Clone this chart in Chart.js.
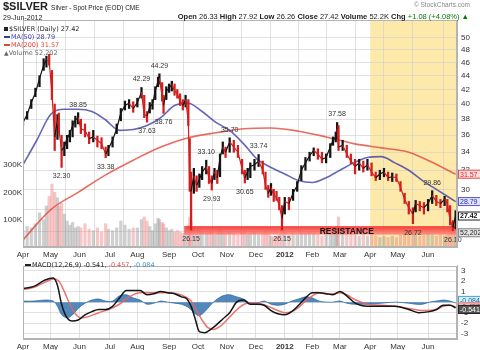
<!DOCTYPE html>
<html>
<head>
<meta charset="utf-8">
<script src="https://cdn.jsdelivr.net/npm/chart.js@4.4.1/dist/chart.umd.min.js"></script>
<style>
  html, body { margin: 0; padding: 0; background: #fff; }
  #wrap { position: relative; width: 480px; height: 350px; overflow: hidden;
          font-family: "Liberation Sans", Arial, Helvetica, sans-serif; color: #222; }
  canvas { position: absolute; left: 0; }
  #price { top: 0; }
  #macd { top: 257px; }
  .t { position: absolute; white-space: nowrap; line-height: 1; }
  .lg { font-family: "DejaVu Sans", sans-serif; font-size: 6.5px; }
  .sw { display: inline-block; width: 6px; height: 2px; vertical-align: middle; margin-right: 1px; }
  b { font-weight: bold; }
</style>
</head>
<body>
<div id="wrap">
  <canvas id="price" width="480" height="262"></canvas>
  <canvas id="macd" width="480" height="93"></canvas>

  <div class="t" style="left:3px;top:1px;font-size:11px;font-weight:bold;">$SILVER <span style="font-size:6.5px;font-weight:normal;">Silver - Spot Price (EOD) CME</span></div>
  <div class="t" style="right:10px;top:2px;font-size:6.5px;color:#888;">© StockCharts.com</div>
  <div class="t" style="left:3px;top:14px;font-size:7px;">29-Jun-2012</div>
  <div class="t" style="right:11px;top:13px;font-size:7.5px;">
    <b>Open</b> 26.33 <b>High</b> 27.92 <b>Low</b> 26.26 <b>Close</b> 27.42 <b>Volume</b> 52.2K <b>Chg</b> <span style="color:#0a7a0a">+1.08 (+4.08%)</span> <span style="color:#0a7a0a">▲</span>
  </div>

  <div class="t lg" style="left:4px;top:26px;color:#222;"><span class="sw" style="background:#222;height:4px;width:4px;"></span>$SILVER (Daily) 27.42</div>
  <div class="t lg" style="left:4px;top:34px;color:#3a3aa8;"><span class="sw" style="background:#3a3aa8;"></span>MA(50) 28.79</div>
  <div class="t lg" style="left:4px;top:42px;color:#e0443a;"><span class="sw" style="background:#e0443a;"></span>MA(200) 31.57</div>
  <div class="t lg" style="left:4px;top:50px;color:#666;"><span style="font-size:6px;">▲</span>Volume 52,202</div>

  <div class="t lg" style="left:25px;top:262px;color:#222;"><span class="sw" style="background:#222;"></span>MACD(12,26,9) -0.541, <span style="color:#e05050">-0.457</span>, <span style="color:#4a90c8">-0.084</span></div>
</div>

<script>
// ---- calendar: trading-day index of each month start, Apr 2011 .. Jun 2012 ----
const monthStart  = [0, 20, 41, 63, 83, 106, 127, 148, 169, 190, 210, 230, 252, 272, 294];
const monthLabels = ['Apr', 'May', 'Jun', 'Jul', 'Aug', 'Sep', 'Oct', 'Nov', 'Dec', '2012', 'Feb', 'Mar', 'Apr', 'May', 'Jun'];

// ---- daily price bars (trading-day index, close, high, low, volume in K) ----
const day = [
  0, 3, 6, 9, 12, 15, 17, 19,
  21, 23, 25, 26, 28, 30, 32, 34, 36, 38, 40,
  42, 45, 48, 51, 54, 57, 60, 62,
  65, 68, 71, 74, 77, 80,
  83, 86, 88, 90, 92, 94, 96, 98, 99, 101, 102, 104,
  106, 108, 110, 112, 114, 116, 118, 120, 121, 122, 124, 126,
  128, 130, 133, 135, 137, 139, 141, 143, 145, 147,
  150, 153, 156, 159, 161, 163, 165, 168,
  171, 174, 176, 178, 180, 182, 184, 186, 188,
  190, 193, 196, 199, 202, 205, 208,
  211, 214, 217, 220, 223, 225, 227, 228, 229,
  232, 235, 238, 241, 244, 247, 250,
  253, 256, 259, 262, 265, 268, 271,
  274, 277, 280, 283, 285, 288, 291,
  294, 297, 300, 303, 306, 308, 310, 312, 314
];
const close = [
  37.6, 38.6, 40.2, 41.5, 43.6, 45.6, 46.4, 46.2,
  41.5, 35.8, 37.8, 36.8, 34.2, 34.6, 35.6, 36.2, 37.2, 37.9, 38.2,
  36.8, 36.6, 35.6, 35.8, 35.4, 35.0, 33.8, 34.4,
  35.4, 36.8, 38.8, 39.8, 40.1, 39.4,
  40.2, 41.6, 38.6, 38.4, 39.6, 40.0, 41.8, 43.2, 43.6, 41.0, 39.8, 41.8,
  42.2, 42.8, 41.8, 41.4, 40.4, 39.8, 40.6, 37.8, 30.6, 29.8, 31.4, 30.4,
  31.0, 31.8, 32.4, 31.2, 30.6, 31.8, 31.2, 33.4, 34.6, 34.0,
  35.2, 34.6, 34.0, 32.2, 31.2, 31.8, 32.4, 32.6,
  33.0, 32.0, 30.4, 29.6, 30.2, 29.4, 29.2, 28.4, 27.2,
  28.8, 28.6, 29.6, 30.4, 32.0, 32.8, 33.6,
  34.2, 33.8, 33.2, 33.4, 34.6, 35.4, 35.8, 36.8, 34.6,
  34.8, 33.8, 33.0, 32.4, 32.8, 32.2, 32.6,
  31.8, 31.2, 31.6, 31.8, 31.2, 31.3, 31.2,
  30.2, 29.0, 28.2, 27.6, 28.6, 28.4, 28.2,
  28.6, 29.4, 28.8, 28.6, 29.0, 28.6, 27.0, 26.4, 27.42
];
const high = [
  38.0, 39.0, 40.6, 42.2, 44.0, 46.6, 47.0, 47.3,
  44.8, 40.0, 38.6, 38.8, 36.0, 35.2, 36.0, 36.6, 37.8, 38.4, 38.85,
  38.0, 37.4, 36.4, 36.6, 35.9, 35.7, 34.6, 34.8,
  35.8, 37.4, 39.4, 40.4, 40.6, 40.3,
  40.8, 42.29, 41.2, 39.0, 40.2, 40.6, 42.4, 43.8, 44.29, 43.0, 41.2, 42.4,
  42.8, 43.2, 42.8, 42.0, 41.4, 40.6, 41.2, 40.6, 35.6, 31.8, 32.2, 31.4,
  31.6, 32.4, 33.10, 32.4, 31.4, 32.2, 32.0, 33.8, 35.2, 34.6,
  35.70, 35.4, 34.8, 33.2, 32.0, 32.2, 32.8, 33.2,
  33.74, 33.0, 31.8, 30.4, 30.6, 30.0, 29.8, 29.2, 28.4,
  29.2, 29.2, 30.0, 30.8, 32.5, 33.4, 34.0,
  34.5, 34.4, 34.0, 33.8, 35.0, 35.8, 36.4, 37.58, 37.2,
  35.4, 34.8, 33.8, 33.2, 33.2, 33.0, 33.2,
  32.8, 31.8, 32.0, 32.2, 31.8, 31.7, 31.6,
  30.8, 29.6, 28.8, 28.2, 28.9, 28.8, 28.7,
  29.0, 29.86, 29.4, 29.0, 29.3, 29.0, 28.4, 27.0, 27.92
];
const low = [
  37.2, 38.0, 39.4, 41.0, 42.4, 44.8, 45.3, 45.6,
  40.6, 34.2, 35.5, 36.2, 32.30, 33.6, 34.4, 35.2, 35.8, 37.0, 37.4,
  36.2, 35.8, 35.0, 35.2, 34.6, 34.4, 33.38, 33.6,
  34.6, 36.2, 37.8, 39.2, 39.4, 38.9,
  39.6, 40.8, 38.2, 37.63, 38.8, 39.3, 40.6, 42.4, 42.8, 40.4, 38.76, 40.6,
  41.6, 41.8, 41.2, 40.8, 39.8, 39.2, 39.6, 37.2, 29.8, 26.15, 29.6, 29.8,
  30.2, 31.0, 31.6, 30.6, 29.93, 31.0, 30.6, 31.3, 33.8, 33.4,
  34.0, 34.0, 33.4, 31.6, 30.65, 31.0, 31.2, 32.0,
  32.4, 31.6, 30.0, 29.2, 29.4, 28.8, 28.9, 28.0, 26.15,
  27.6, 28.0, 28.9, 29.8, 30.9, 32.0, 33.0,
  33.6, 33.2, 32.8, 32.8, 33.4, 34.8, 35.2, 35.6, 34.2,
  34.2, 33.4, 32.7, 31.6, 32.0, 31.8, 32.0,
  31.4, 30.9, 31.0, 31.3, 30.9, 30.8, 30.8,
  29.8, 28.6, 27.6, 26.72, 27.8, 27.9, 27.6,
  27.9, 28.6, 28.4, 28.2, 28.4, 27.8, 26.6, 26.10, 26.26
];
const volumeK = [
  60, 75, 70, 85, 125, 100, 150, 185,
  230, 200, 180, 150, 160, 120, 95, 80, 90, 70, 75,
  70, 85, 65, 60, 70, 55, 85, 65,
  60, 70, 95, 80, 65, 70,
  70, 100, 110, 95, 75, 60, 85, 105, 100, 90, 85, 70,
  60, 65, 55, 60, 55, 50, 60, 80, 110, 95, 70, 60,
  65, 55, 50, 55, 60, 45, 50, 65, 55, 50,
  55, 50, 45, 55, 60, 45, 50, 55,
  45, 50, 60, 50, 40, 35, 40, 45, 60,
  55, 45, 50, 45, 60, 50, 55,
  50, 45, 40, 45, 50, 55, 60, 70, 110,
  60, 50, 55, 45, 40, 45, 40,
  45, 40, 35, 40, 35, 40, 35,
  45, 50, 55, 60, 50, 40, 45,
  50, 45, 40, 45, 40, 45, 60, 55, 52.2
];

// ---- moving averages ----
const ma50Day = [0, 10, 20, 30, 40, 50, 60, 70, 80, 90, 100, 110, 120, 130, 140, 150, 160, 170, 180, 190, 200, 210, 220, 230, 240, 250, 260, 270, 280, 290, 300, 314];
const ma50    = [32.6, 35.4, 38.6, 39.3, 39.3, 39.0, 37.9, 36.6, 36.7, 37.2, 38.2, 39.8, 40.1, 39.0, 37.6, 36.6, 35.0, 33.2, 32.3, 31.6, 30.9, 30.7, 31.2, 32.0, 32.8, 33.4, 33.5, 32.8, 32.0, 30.9, 30.0, 28.79];
const ma200Day = [0, 20, 40, 60, 80, 100, 120, 140, 160, 180, 200, 220, 240, 260, 280, 295, 314];
const ma200    = [25.3, 28.0, 29.7, 31.5, 33.1, 34.6, 35.7, 36.3, 36.8, 36.9, 36.5, 35.8, 35.0, 34.5, 34.0, 33.0, 31.57];

// ---- MACD(12,26,9) ----
const macdDay = [0, 8, 16, 22, 25, 28, 32, 36, 40, 45, 50, 55, 60, 65, 70, 75, 80, 85, 90, 95, 100, 105, 110, 115, 119, 122, 125, 128, 132, 136, 140, 145, 150, 155, 160, 165, 170, 175, 180, 185, 190, 195, 200, 205, 210, 215, 220, 225, 230, 235, 240, 245, 250, 260, 270, 280, 287, 295, 300, 305, 310, 314];
const macdLine = [1.3, 1.5, 2.1, 2.3, 1.6, -0.2, -1.5, -1.8, -1.7, -1.2, -0.9, -0.7, -0.7, -0.4, 0.4, 1.1, 1.1, 1.1, 0.7, 0.8, 1.0, 0.9, 0.8, 0.5, 0.3, -0.4, -1.6, -2.8, -2.9, -2.6, -2.2, -1.6, -1.0, 0.0, 0.2, -0.2, -0.2, -0.3, -0.8, -1.1, -1.2, -0.9, -0.3, 0.4, 0.9, 0.9, 0.8, 0.7, 1.0, 0.6, 0.0, -0.3, -0.4, -0.4, -0.4, -0.7, -1.0, -0.9, -0.7, -0.3, -0.3, -0.541];
const sigDay = [0, 8, 16, 22, 26, 30, 34, 38, 42, 47, 55, 62, 70, 77, 85, 95, 105, 112, 118, 122, 126, 130, 134, 138, 143, 148, 153, 158, 163, 170, 178, 185, 190, 195, 200, 205, 210, 215, 220, 225, 230, 235, 240, 250, 260, 270, 280, 290, 300, 305, 310, 314];
const sigLine = [1.2, 1.4, 1.9, 2.2, 2.0, 1.0, -0.2, -1.1, -1.5, -1.4, -1.0, -0.7, -0.2, 0.5, 0.9, 0.9, 0.9, 0.8, 0.5, 0.1, -0.8, -1.7, -2.4, -2.6, -2.3, -1.7, -1.0, -0.4, -0.1, -0.1, -0.4, -0.8, -1.0, -0.9, -0.5, 0.1, 0.6, 0.9, 0.8, 0.8, 0.9, 0.7, 0.3, -0.2, -0.3, -0.4, -0.6, -0.8, -0.7, -0.4, -0.3, -0.457];
const histDay = [0, 8, 16, 22, 25, 28, 32, 36, 40, 45, 50, 55, 60, 65, 70, 75, 80, 85, 90, 95, 100, 105, 110, 115, 120, 125, 128, 132, 136, 140, 145, 150, 155, 160, 165, 170, 175, 180, 185, 190, 195, 200, 205, 210, 215, 220, 225, 230, 235, 240, 245, 250, 260, 270, 280, 285, 290, 295, 300, 305, 310, 314];
const histVal = [0.1, 0.1, 0.2, 0.1, -0.4, -1.2, -1.5, -1.2, -0.6, -0.1, 0.2, 0.3, 0.1, 0.1, 0.6, 0.7, 0.4, 0.2, -0.2, -0.1, 0.1, 0.0, -0.1, -0.2, -0.5, -1.1, -1.3, -0.9, -0.3, 0.2, 0.6, 0.7, 0.5, 0.3, -0.1, -0.1, 0.1, -0.2, -0.3, -0.2, 0.1, 0.3, 0.5, 0.4, 0.1, 0.0, 0.0, 0.1, -0.1, -0.2, -0.2, -0.2, -0.1, 0.0, -0.1, -0.2, -0.2, 0.0, 0.1, 0.2, 0.1, -0.084];

// ---- axis ticks ----
const priceTicks = [26, 28, 30, 32, 34, 36, 38, 40, 42, 44, 46, 48, 50];
const volTicksK = [100, 200, 300];
const macdTicks = [-3, -2, -1, 0, 1, 2, 3];

// ---- annotated swing points: [trading day, 'high' | 'low'] ----
const swingNotes = [
  [40, 'high'], [28, 'low'], [60, 'low'], [86, 'high'], [90, 'low'], [99, 'high'], [102, 'low'],
  [122, 'low'], [133, 'high'], [137, 'low'], [150, 'high'], [161, 'low'], [171, 'high'],
  [188, 'low'], [228, 'high'], [283, 'low'], [297, 'high'], [312, 'low']
];

// ---------------------------------------------------------------------------
const FAMILY = '"Liberation Sans", Arial, Helvetica, sans-serif';
Chart.defaults.font.family = FAMILY;
Chart.defaults.font.size = 8;
Chart.defaults.color = '#333';
Chart.defaults.animation = false;
Chart.defaults.plugins.legend.display = false;
Chart.defaults.plugins.tooltip.enabled = false;

const GRID = 'rgba(205,205,205,0.6)';
const EDGE = '#b4b4b4';
const UP = '#141414', DOWN = '#d41e1e';
const last = a => a[a.length - 1];

function monthAxis(h) {
  return {
    type: 'linear', min: 0, max: 315, offset: false,
    afterBuildTicks: s => { s.ticks = monthStart.map(v => ({ value: v })); },
    afterFit: s => { s.height = h; },
    ticks: {
      autoSkip: false, maxRotation: 0, padding: 3, color: '#333',
      font: c => ({ family: FAMILY, size: 8, weight: monthLabels[c.index] === '2012' ? 'bold' : 'normal' }),
      callback: (v, i) => monthLabels[i]
    },
    grid: { color: GRID, drawTicks: false },
    border: { color: EDGE }
  };
}

function valueBox(ctx, x, y, text, fg, bg, stroke, bold) {
  ctx.font = (bold ? 'bold ' : '') + '7px ' + FAMILY;
  const w = 23, h = 9;
  ctx.fillStyle = bg;
  ctx.fillRect(x, y - h / 2, w, h);
  ctx.strokeStyle = stroke;
  ctx.lineWidth = 1;
  ctx.strokeRect(x + 0.5, y - h / 2 + 0.5, w - 1, h - 1);
  ctx.fillStyle = fg;
  ctx.textAlign = 'left';
  ctx.textBaseline = 'middle';
  ctx.fillText(text, x + 2, y + 0.5);
}

const panelDecor = {
  id: 'panelDecor',
  beforeDraw(chart, args, o) {
    if (o.shadeFrom == null) return;
    const { ctx, chartArea: a, scales: { x } } = chart;
    const x0 = x.getPixelForValue(o.shadeFrom);
    ctx.save();
    ctx.fillStyle = 'rgb(253,234,170)';
    ctx.fillRect(x0, a.top, a.right - x0, a.bottom - a.top);
    ctx.restore();
  },
  afterDatasetDraw(chart, args, o) {
    if (!o.band || chart.data.datasets[args.index].label !== 'Volume') return;
    const { ctx, chartArea: a, scales: { x, y } } = chart;
    const x0 = x.getPixelForValue(o.band.from);
    const yTop = y.getPixelForValue(o.band.high), yBot = y.getPixelForValue(o.band.low);
    ctx.save();
    const g = ctx.createLinearGradient(0, yTop, 0, yBot);
    g.addColorStop(0, 'rgba(246,44,40,0.92)');
    g.addColorStop(1, 'rgba(255,125,115,0.8)');
    ctx.fillStyle = g;
    ctx.fillRect(x0, yTop, a.right - x0, yBot - yTop);
    ctx.font = 'bold 8.5px ' + FAMILY;
    ctx.fillStyle = '#111';
    ctx.textAlign = 'center';
    ctx.textBaseline = 'middle';
    ctx.fillText(o.band.text, x.getPixelForValue(o.band.textAt), (yTop + yBot) / 2 + 1);
    ctx.restore();
  },
  afterDatasetsDraw(chart, args, o) {
    if (!o.notes) return;
    const { ctx, scales: { x, y } } = chart;
    ctx.save();
    ctx.font = '7px ' + FAMILY;
    ctx.fillStyle = '#333';
    ctx.textAlign = 'center';
    ctx.textBaseline = 'middle';
    o.notes.forEach(([d, side]) => {
      const i = day.indexOf(d);
      const v = side === 'high' ? high[i] : low[i];
      const px = x.getPixelForValue(d), py = y.getPixelForValue(v);
      ctx.fillText(v.toFixed(2), px, side === 'high' ? py - 8 : py + 9);
    });
    ctx.restore();
  },
  afterDraw(chart, args, o) {
    const { ctx, chartArea: a } = chart;
    ctx.save();
    ctx.strokeStyle = EDGE;
    ctx.lineWidth = 1;
    ctx.strokeRect(Math.round(a.left) + 0.5, Math.round(a.top) + 0.5, Math.round(a.right - a.left) - 1, Math.round(a.bottom - a.top) - 1);
    (o.boxes || []).forEach(b => {
      const sc = chart.scales[b.axis];
      valueBox(ctx, a.right + 1, sc.getPixelForValue(b.value), b.text, b.fg, b.bg, b.stroke, b.bold);
    });
    ctx.restore();
  }
};

// ---- price panel ----
const isDown = i => i > 0 && close[i] < close[i - 1];
new Chart(document.getElementById('price'), {
  type: 'bar',
  data: {
    datasets: [
      {
        type: 'bar', label: 'Volume', yAxisID: 'yVol', order: 5, grouped: false,
        data: day.map((d, i) => ({ x: d, y: volumeK[i] })),
        backgroundColor: day.map((d, i) => isDown(i) ? 'rgba(236,130,130,0.45)' : 'rgba(150,150,150,0.45)'),
        barThickness: 2.6
      },
      {
        type: 'line', label: 'MA(200)', yAxisID: 'y', order: 4,
        data: ma200Day.map((d, i) => ({ x: d, y: ma200[i] })),
        borderColor: 'rgba(228,84,68,0.85)', borderWidth: 1.6, pointRadius: 0, cubicInterpolationMode: 'monotone'
      },
      {
        type: 'line', label: 'MA(50)', yAxisID: 'y', order: 3,
        data: ma50Day.map((d, i) => ({ x: d, y: ma50[i] })),
        borderColor: 'rgba(62,62,168,0.8)', borderWidth: 1.6, pointRadius: 0, cubicInterpolationMode: 'monotone'
      },
      {
        type: 'bar', label: 'Range', yAxisID: 'y', order: 2, grouped: false,
        data: day.map((d, i) => ({ x: d, y: [low[i], high[i]] })),
        backgroundColor: day.map((d, i) => isDown(i) ? DOWN : UP),
        barThickness: 1.6
      },
      {
        type: 'line', label: '$SILVER', yAxisID: 'y', order: 1,
        data: day.map((d, i) => ({ x: d, y: close[i] })),
        borderColor: UP, borderWidth: 1.2, pointRadius: 0,
        segment: { borderColor: c => c.p1.parsed.y < c.p0.parsed.y ? DOWN : UP }
      }
    ]
  },
  options: {
    responsive: false,
    layout: { padding: { top: 20, left: 0, right: 0, bottom: 0 } },
    scales: {
      x: monthAxis(15),
      y: {
        type: 'logarithmic', position: 'right', min: 24.7, max: 53.1,
        afterBuildTicks: s => { s.ticks = priceTicks.map(v => ({ value: v })); },
        afterFit: s => { s.width = 23; },
        ticks: { autoSkip: false, padding: 4, color: '#333', callback: v => (v >= 30 ? String(v) : '') },
        grid: { color: GRID, drawTicks: false },
        border: { color: EDGE }
      },
      yVol: {
        type: 'linear', position: 'left', min: 0, max: 830,
        afterBuildTicks: s => { s.ticks = volTicksK.map(v => ({ value: v })); },
        afterFit: s => { s.width = 23; },
        ticks: { autoSkip: false, padding: 1, color: '#333', callback: v => v + 'K' },
        grid: { display: false, drawTicks: false },
        border: { color: EDGE }
      }
    },
    plugins: {
      panelDecor: {
        shadeFrom: 252,
        band: { from: 117, low: 25.75, high: 26.5, text: 'RESISTANCE', textAt: 235 },
        notes: swingNotes,
        boxes: [
          { axis: 'y', value: last(ma200), text: last(ma200).toFixed(2), fg: '#d42a2a', bg: '#ffdede', stroke: '#e05050' },
          { axis: 'y', value: last(ma50), text: last(ma50).toFixed(2), fg: '#3030a0', bg: '#dfe2ff', stroke: '#5a5ab8' },
          { axis: 'y', value: last(close), text: last(close).toFixed(2), fg: '#111', bg: '#fff', stroke: '#222', bold: true },
          { axis: 'yVol', value: last(volumeK), text: '52,202', fg: '#222', bg: '#e4e4e4', stroke: '#888' }
        ]
      }
    }
  },
  plugins: [panelDecor]
});

// ---- MACD panel ----
new Chart(document.getElementById('macd'), {
  type: 'line',
  data: {
    datasets: [
      {
        label: 'Histogram', order: 3,
        data: histDay.map((d, i) => ({ x: d, y: histVal[i] })),
        borderColor: 'rgba(40,100,160,0.9)', backgroundColor: 'rgba(52,116,176,0.85)',
        fill: 'origin', borderWidth: 0.8, pointRadius: 0, tension: 0.3
      },
      {
        label: 'Signal', order: 2,
        data: sigDay.map((d, i) => ({ x: d, y: sigLine[i] })),
        borderColor: 'rgba(232,100,96,0.9)', borderWidth: 1.5, pointRadius: 0, cubicInterpolationMode: 'monotone'
      },
      {
        label: 'MACD', order: 1,
        data: macdDay.map((d, i) => ({ x: d, y: macdLine[i] })),
        borderColor: '#151515', borderWidth: 1.5, pointRadius: 0, cubicInterpolationMode: 'monotone'
      }
    ]
  },
  options: {
    responsive: false,
    layout: { padding: { top: 2, left: 23, right: 0, bottom: 0 } },
    scales: {
      x: monthAxis(11),
      y: {
        type: 'linear', position: 'right', min: -3.5, max: 3.45,
        afterBuildTicks: s => { s.ticks = macdTicks.map(v => ({ value: v })); },
        afterFit: s => { s.width = 23; },
        ticks: { autoSkip: false, padding: 4, color: '#333', callback: v => (v === 0 ? '' : String(v)) },
        grid: { color: GRID, drawTicks: false },
        border: { color: EDGE }
      }
    },
    plugins: {
      panelDecor: {
        boxes: [
          { axis: 'y', value: last(histVal) + 0.25, text: last(histVal).toFixed(3), fg: '#1d5d92', bg: '#cfeef6', stroke: '#49a6c8' },
          { axis: 'y', value: last(sigLine), text: last(sigLine).toFixed(3), fg: '#c03030', bg: '#ffe0e0', stroke: '#e06060' },
          { axis: 'y', value: last(macdLine) - 0.15, text: last(macdLine).toFixed(3), fg: '#fff', bg: '#555', stroke: '#222' }
        ]
      }
    }
  },
  plugins: [panelDecor]
});
</script>
</body>
</html>
